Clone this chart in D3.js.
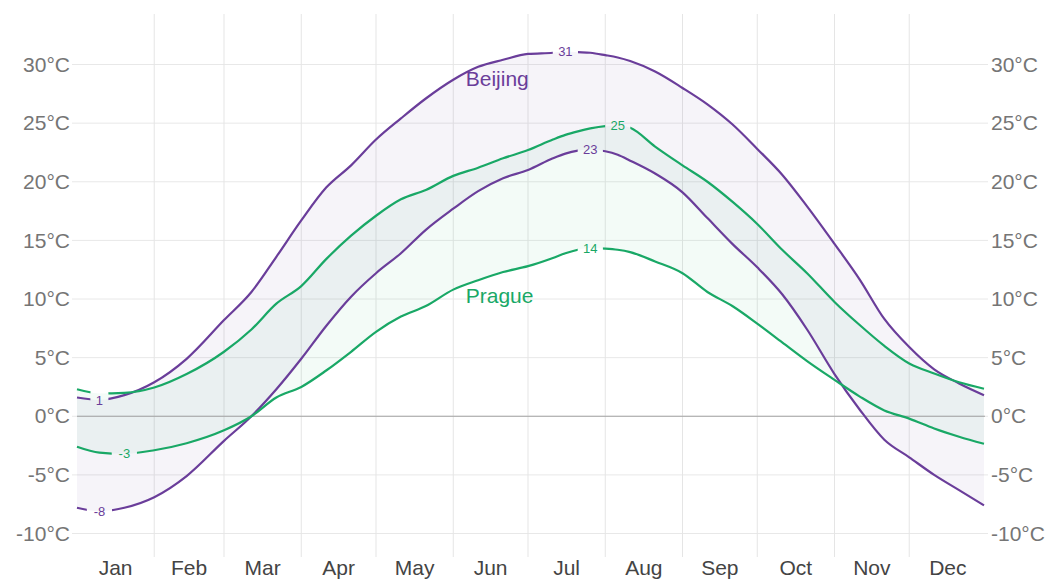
<!DOCTYPE html>
<html>
<head>
<meta charset="utf-8">
<script src="https://cdn.jsdelivr.net/npm/d3@7"></script>
<style>
  body { margin: 0; background: #fff; }
  text { font-family: "Liberation Sans", Arial, Helvetica, sans-serif; }
</style>
</head>
<body>
<svg id="chart" width="1054" height="580"></svg>
<script>
// Daily normal temperatures (°C), sampled through the year
const dates = ["01-01","01-10","01-20","02-01","02-14","03-01","03-12","03-22",
  "04-01","04-11","04-21","05-01","05-11","05-21","06-01","06-11","06-21",
  "07-01","07-11","07-16","07-21","07-26","08-01","08-06","08-11","08-21",
  "09-01","09-11","09-21","10-01","10-11","10-21","11-01","11-11","11-21",
  "12-01","12-11","12-21","12-31"];

const beijingMax = [1.6, 1.4, 1.8, 2.9, 4.9, 8.2, 10.6, 13.6,
  16.7, 19.5, 21.4, 23.6, 25.4, 27.1, 28.7, 29.8, 30.4,
  30.9, 31.0, 31.1, 31.05, 31.0, 30.8, 30.6, 30.3, 29.4,
  28.0, 26.6, 24.9, 22.8, 20.6, 17.9, 14.7, 11.7, 8.3,
  5.9, 4.0, 2.8, 1.8];

const beijingMin = [-7.8, -8.1, -7.8, -6.9, -5.1, -2.1, 0.0, 2.3,
  4.9, 7.7, 10.2, 12.2, 13.9, 15.9, 17.7, 19.2, 20.3,
  21.0, 22.0, 22.4, 22.65, 22.75, 22.6, 22.3, 21.8, 20.7,
  19.1, 16.9, 14.7, 12.7, 10.4, 7.4, 3.6, 0.6, -2.0,
  -3.5, -5.0, -6.3, -7.6];

const pragueMax = [2.3, 1.95, 2.0, 2.45, 3.6, 5.5, 7.4, 9.6,
  11.1, 13.4, 15.4, 17.1, 18.5, 19.3, 20.5, 21.2, 22.0,
  22.7, 23.6, 24.0, 24.3, 24.55, 24.75, 24.8, 24.6, 23.0,
  21.4, 20.0, 18.3, 16.4, 14.2, 12.2, 9.75, 7.8, 6.0,
  4.5, 3.65, 2.9, 2.35];

const pragueMin = [-2.6, -3.1, -3.2, -2.9, -2.3, -1.2, 0.0, 1.6,
  2.5, 3.9, 5.5, 7.2, 8.5, 9.4, 10.8, 11.6, 12.3,
  12.8, 13.5, 13.9, 14.2, 14.35, 14.3, 14.2, 14.0, 13.2,
  12.2, 10.6, 9.4, 7.9, 6.3, 4.7, 3.1, 1.7, 0.5,
  -0.2, -1.05, -1.75, -2.35];

const cityNames = ["Beijing", "Prague"];
const monthNames = ["Jan","Feb","Mar","Apr","May","Jun","Jul","Aug","Sep","Oct","Nov","Dec"];
const tempTicks = [-10, -5, 0, 5, 10, 15, 20, 25, 30];

const YEAR = 2023;
const parseDay = s => new Date(YEAR, +s.slice(0, 2) - 1, +s.slice(3, 5));
const days = dates.map(parseDay);

const svg = d3.select("#chart");
const plot = { left: 77, right: 984, top: 14, bottom: 557 };

const x = d3.scaleTime()
  .domain([new Date(YEAR, 0, 1), new Date(YEAR, 11, 31)])
  .range([plot.left, plot.right]);
const y = d3.scaleLinear().domain([-10, 30]).range([533.5, 64.5]);

const colors = { Beijing: "#6a3d9a", Prague: "#19a866" };
const fills  = { Beijing: "rgba(106,61,154,0.06)", Prague: "rgba(25,168,102,0.05)" };
const tickGray = "#757575";

// horizontal grid
svg.append("g").selectAll("line").data(tempTicks).join("line")
  .attr("x1", plot.left - 5).attr("x2", plot.right + 4)
  .attr("y1", d => y(d)).attr("y2", d => y(d))
  .attr("stroke", "#e8e8e8").attr("stroke-width", 1);

// month boundaries
const monthStarts = d3.timeMonths(new Date(YEAR, 1, 1), new Date(YEAR, 11, 2));
svg.append("g").selectAll("line").data(monthStarts).join("line")
  .attr("x1", d => x(d)).attr("x2", d => x(d))
  .attr("y1", plot.top).attr("y2", plot.bottom)
  .attr("stroke", "#e5e5e5").attr("stroke-width", 1);

// y axes, left and right
const fmt = d => d + "°C";
const leftAxis = svg.append("g").attr("transform", `translate(${plot.left - 7},0)`)
  .call(d3.axisLeft(y).tickValues(tempTicks).tickFormat(fmt).tickSize(0).tickPadding(0));
const rightAxis = svg.append("g").attr("transform", `translate(${plot.right + 7},0)`)
  .call(d3.axisRight(y).tickValues(tempTicks).tickFormat(fmt).tickSize(0).tickPadding(0));
[leftAxis, rightAxis].forEach(a => {
  a.select(".domain").remove();
  a.selectAll("text").attr("fill", tickGray).style("font-size", "21px")
    .style("font-family", '"Liberation Sans", Arial, sans-serif');
});

// month labels at mid-month
const monthMids = monthNames.map((m, i) => {
  const a = new Date(YEAR, i, 1), b = new Date(YEAR, i + 1, 1);
  return { name: m, date: new Date((+a + +b) / 2) };
});
svg.append("g").selectAll("text").data(monthMids).join("text")
  .attr("x", d => x(d.date)).attr("y", 575)
  .attr("text-anchor", "middle").attr("fill", "#444").style("font-size", "21px")
  .text(d => d.name);

// series
const series = [
  { name: cityNames[0], hi: beijingMax, lo: beijingMin },
  { name: cityNames[1], hi: pragueMax, lo: pragueMin }
];

const area = d3.area().curve(d3.curveMonotoneX)
  .x((d, i) => x(days[i])).y0(d => y(d[0])).y1(d => y(d[1]));
const line = d3.line().curve(d3.curveMonotoneX)
  .x((d, i) => x(days[i])).y(d => y(d));

svg.append("g").selectAll("path").data(series).join("path")
  .attr("d", s => area(s.lo.map((v, i) => [v, s.hi[i]])))
  .attr("fill", s => fills[s.name]);

// zero line
svg.append("line")
  .attr("x1", plot.left).attr("x2", plot.right + 1)
  .attr("y1", y(0)).attr("y2", y(0))
  .attr("stroke", "#a3a3a3").attr("stroke-width", 1.2);

// extreme-value labels: max and min of every line
const labels = [];
series.forEach(s => {
  [s.hi, s.lo].forEach(vals => {
    const iMax = d3.maxIndex(vals), iMin = d3.minIndex(vals);
    [iMax, iMin].forEach(i => {
      const txt = String(Math.round(vals[i]));
      const w = txt.length * 7.6 + 10;
      labels.push({ name: s.name, x: x(days[i]), y: y(vals[i]), txt, w, h: 15 });
    });
  });
});
// a label that collides with an earlier one keeps its gap but drops its text
labels.forEach((l, k) => {
  l.shown = !labels.slice(0, k).some(o => o.shown &&
    Math.abs(o.x - l.x) < (o.w + l.w) / 2 - 4 && Math.abs(o.y - l.y) < (o.h + l.h) / 2);
});

const mask = svg.append("defs").append("mask").attr("id", "label-gaps");
mask.append("rect").attr("width", 1054).attr("height", 580).attr("fill", "#fff");
mask.selectAll("rect.gap").data(labels).join("rect").attr("class", "gap")
  .attr("x", l => l.x - l.w / 2).attr("y", l => l.y - l.h / 2)
  .attr("width", l => l.w).attr("height", l => l.h).attr("fill", "#000");

const lineGroup = svg.append("g").attr("mask", "url(#label-gaps)");
series.forEach(s => {
  [s.hi, s.lo].forEach(vals => {
    lineGroup.append("path").attr("d", line(vals))
      .attr("fill", "none").attr("stroke", colors[s.name])
      .attr("stroke-width", 2.2).attr("stroke-linejoin", "round");
  });
});

svg.append("g").selectAll("text").data(labels.filter(l => l.shown)).join("text")
  .attr("x", l => l.x).attr("y", l => l.y).attr("dy", "0.36em")
  .attr("text-anchor", "middle").attr("fill", l => colors[l.name])
  .style("font-size", "13px").text(l => l.txt);

// city names
const nameAnchors = [
  { name: cityNames[0], date: new Date(YEAR, 5, 6), t: 28.17 },
  { name: cityNames[1], date: new Date(YEAR, 5, 6), t: 9.66 }
];
svg.append("g").selectAll("text").data(nameAnchors).join("text")
  .attr("x", d => x(d.date)).attr("y", d => y(d.t))
  .attr("fill", d => colors[d.name]).style("font-size", "21px")
  .text(d => d.name);
</script>
</body>
</html>
